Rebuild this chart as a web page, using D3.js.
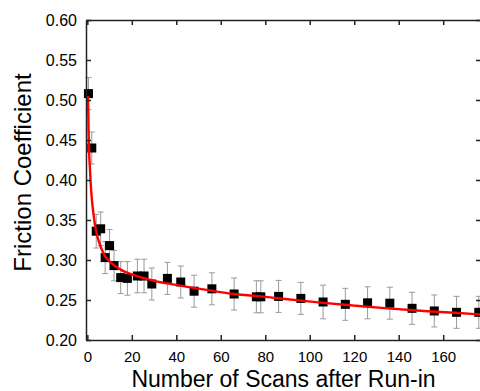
<!DOCTYPE html>
<html>
<head>
<meta charset="utf-8">
<script src="https://cdn.jsdelivr.net/npm/d3@7"></script>
<style>
  html, body { margin: 0; padding: 0; background: #fff; }
  svg { display: block; font-family: "Liberation Sans", Arial, sans-serif; }
</style>
</head>
<body>
<svg id="chart" width="480" height="391"></svg>
<script>
// ── data ───────────────────────────────────────────────────────────────────
const scans = [0.5, 2, 4, 6, 8, 10, 12, 15, 18, 22.5, 25.5, 29, 36, 42, 48, 56, 66, 76, 78, 86, 96, 106, 116, 126, 136, 146, 156, 166, 176];
const friction = [0.508, 0.44, 0.336, 0.339, 0.303, 0.318, 0.293, 0.278, 0.277, 0.280, 0.280, 0.270, 0.277, 0.2725, 0.261, 0.264, 0.2575, 0.254, 0.254, 0.2545, 0.252, 0.2475, 0.2446, 0.2465, 0.246, 0.2396, 0.2363, 0.2346, 0.2346];
const errors = [0.02, 0.02, 0.021, 0.021, 0.02, 0.02, 0.019, 0.02, 0.021, 0.021, 0.021, 0.02, 0.02, 0.02, 0.02, 0.02, 0.02, 0.02, 0.02, 0.02, 0.02, 0.021, 0.02, 0.02, 0.02, 0.02, 0.02, 0.02, 0.02];

// fitted curve (red)
const fitX = [0.3, 0.6, 1.2, 1.8, 2.7, 3.8, 5.3, 7.5, 10.5, 15, 21, 30, 42, 55, 66, 78, 90, 105, 120, 135, 153, 165, 177];
const fitY = [0.505, 0.455, 0.413, 0.384, 0.359, 0.338, 0.322, 0.307, 0.297, 0.288, 0.281, 0.274, 0.268, 0.262, 0.2575, 0.2545, 0.251, 0.2467, 0.243, 0.2395, 0.236, 0.234, 0.2318];

const xTicks = [0, 20, 40, 60, 80, 100, 120, 140, 160];
const yTicks = [0.20, 0.25, 0.30, 0.35, 0.40, 0.45, 0.50, 0.55, 0.60];

// ── layout ────────────────────────────────────────────────────────────────
const plot = { left: 86, right: 481, top: 20, bottom: 340 };
const TICK = 5;

const svg = d3.select('#chart');

const x = d3.scaleLinear().domain([-0.6, 177]).range([plot.left, plot.right]);
const y = d3.scaleLinear().domain([0.2, 0.6]).range([plot.bottom, plot.top]);

// error bars
const errG = svg.append('g')
  .attr('stroke', '#9a9a9a')
  .attr('stroke-width', 1);

scans.forEach((s, i) => {
  const cx = x(s);
  const y0 = y(friction[i] - errors[i]);
  const y1 = y(friction[i] + errors[i]);
  errG.append('line').attr('x1', cx).attr('x2', cx).attr('y1', y0).attr('y2', y1);
  errG.append('line').attr('x1', cx - 3).attr('x2', cx + 3).attr('y1', y0).attr('y2', y0);
  errG.append('line').attr('x1', cx - 3).attr('x2', cx + 3).attr('y1', y1).attr('y2', y1);
});

// square markers
const SQ = 9;
svg.append('g')
  .selectAll('rect')
  .data(scans)
  .join('rect')
  .attr('x', (d) => x(d) - SQ / 2)
  .attr('y', (d, i) => y(friction[i]) - SQ / 2)
  .attr('width', SQ)
  .attr('height', SQ)
  .attr('fill', '#000');

// fit line
const fitLine = d3.line()
  .x((d) => x(d[0]))
  .y((d) => y(d[1]))
  .curve(d3.curveMonotoneX);

svg.append('path')
  .datum(d3.zip(fitX, fitY))
  .attr('d', fitLine)
  .attr('fill', 'none')
  .attr('stroke', '#ff0000')
  .attr('stroke-width', 2.4);

// axes (ticks point inward on all four sides)
const axisStyle = (g) => {
  g.select('.domain').attr('stroke', '#222').attr('stroke-width', 1.5);
  g.selectAll('.tick line').attr('stroke', '#222').attr('stroke-width', 1.5);
};

svg.append('g')
  .attr('transform', `translate(0,${plot.bottom})`)
  .call(d3.axisBottom(x).tickValues(xTicks).tickSizeInner(-TICK).tickSizeOuter(0).tickPadding(11))
  .call(axisStyle)
  .call((g) => g.selectAll('.tick text').attr('font-size', 15).attr('fill', '#000').attr('font-family', 'Liberation Sans, Arial, sans-serif'));

svg.append('g')
  .attr('transform', `translate(0,${plot.top})`)
  .call(d3.axisTop(x).tickValues(xTicks).tickSizeInner(-TICK).tickSizeOuter(0).tickFormat(''))
  .call(axisStyle);

svg.append('g')
  .attr('transform', `translate(${plot.left},0)`)
  .call(d3.axisLeft(y).tickValues(yTicks).tickSizeInner(-TICK).tickSizeOuter(0).tickPadding(9).tickFormat(d3.format('.2f')))
  .call(axisStyle)
  .call((g) => g.selectAll('.tick text').attr('font-size', 16).attr('fill', '#000').attr('font-family', 'Liberation Sans, Arial, sans-serif'));

svg.append('g')
  .attr('transform', `translate(${plot.right},0)`)
  .call(d3.axisRight(y).tickValues(yTicks).tickSizeInner(-TICK).tickSizeOuter(0).tickFormat(''))
  .call(axisStyle);

// axis titles
svg.append('text')
  .attr('x', 283.5)
  .attr('y', 386.5)
  .attr('text-anchor', 'middle')
  .attr('font-size', 23)
  .text('Number of Scans after Run-in');

svg.append('text')
  .attr('transform', 'translate(31,172.5) rotate(-90)')
  .attr('text-anchor', 'middle')
  .attr('font-size', 24)
  .text('Friction Coefficient');
</script>
</body>
</html>
